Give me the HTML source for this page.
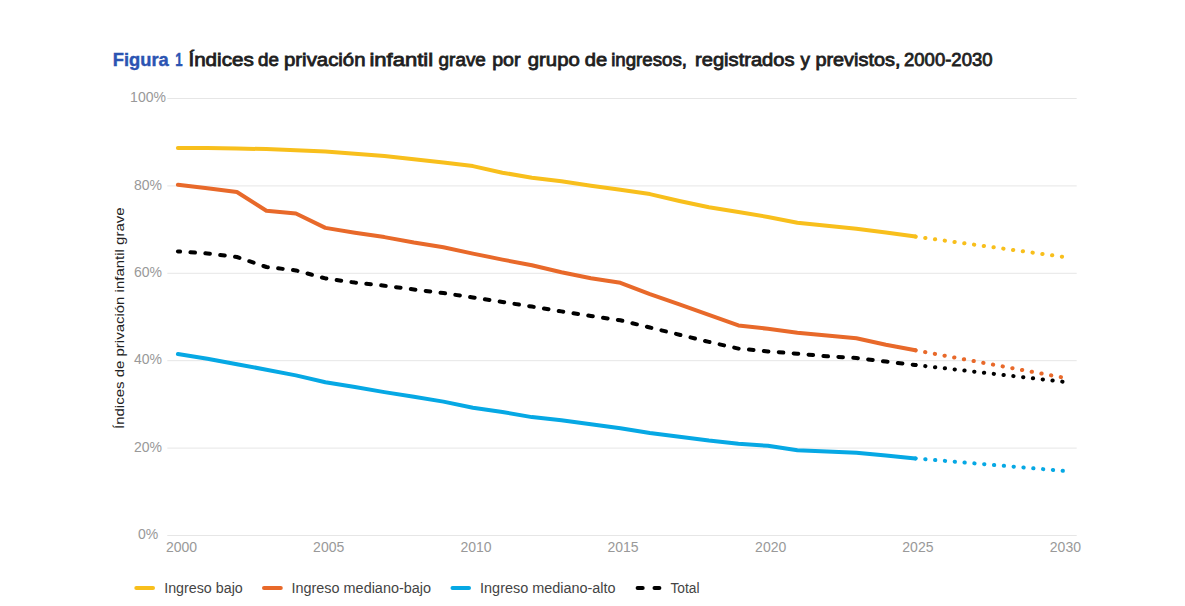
<!DOCTYPE html>
<html><head><meta charset="utf-8">
<style>
html,body{margin:0;padding:0;background:#fff;width:1185px;height:606px;overflow:hidden;}
svg{position:absolute;left:0;top:0;display:block;}
text{font-family:"Liberation Sans",sans-serif;}
.tick{font-size:14px;fill:#999999;}
.ytitle{font-size:13px;fill:#222222;}
.title{font-size:18px;font-weight:normal;fill:#1f1f1f;stroke:#1f1f1f;stroke-width:0.8px;}
.fig{font-size:18px;font-weight:bold;fill:#2b54b2;stroke:#2b54b2;stroke-width:0.4px;}
.leg{font-size:14px;fill:#444444;}
</style></head><body>
<svg width="1185" height="606" viewBox="0 0 1185 606">
<line x1="167.3" x2="1076.7" y1="98.5" y2="98.5" stroke="#e6e6e6" stroke-width="1"/>
<line x1="167.3" x2="1076.7" y1="185.9" y2="185.9" stroke="#e6e6e6" stroke-width="1"/>
<line x1="167.3" x2="1076.7" y1="273.3" y2="273.3" stroke="#e6e6e6" stroke-width="1"/>
<line x1="167.3" x2="1076.7" y1="360.7" y2="360.7" stroke="#e6e6e6" stroke-width="1"/>
<line x1="167.3" x2="1076.7" y1="448.1" y2="448.1" stroke="#e6e6e6" stroke-width="1"/>
<line x1="167.3" x2="1076.7" y1="535.5" y2="535.5" stroke="#e6e6e6" stroke-width="1"/>
<text x="148" y="102.2" text-anchor="middle" class="tick">100%</text>
<text x="148" y="189.6" text-anchor="middle" class="tick">80%</text>
<text x="148" y="277.0" text-anchor="middle" class="tick">60%</text>
<text x="148" y="364.4" text-anchor="middle" class="tick">40%</text>
<text x="148" y="451.8" text-anchor="middle" class="tick">20%</text>
<text x="148" y="539.2" text-anchor="middle" class="tick">0%</text>
<text x="181.5" y="552.1" text-anchor="middle" class="tick">2000</text>
<text x="328.7" y="552.1" text-anchor="middle" class="tick">2005</text>
<text x="476.0" y="552.1" text-anchor="middle" class="tick">2010</text>
<text x="623.0" y="552.1" text-anchor="middle" class="tick">2015</text>
<text x="770.7" y="552.1" text-anchor="middle" class="tick">2020</text>
<text x="917.9" y="552.1" text-anchor="middle" class="tick">2025</text>
<text x="1065.4" y="552.1" text-anchor="middle" class="tick">2030</text>
<text class="ytitle" transform="translate(123.8,318.2) rotate(-90)" text-anchor="middle" textLength="221.6" lengthAdjust="spacingAndGlyphs">Índices de privación infantil grave</text>
<path d="M177.90,147.90 L207.40,148.10 L236.90,148.50 L266.40,149.10 L295.90,150.30 L325.40,151.60 L354.90,153.80 L384.40,156.00 L413.90,159.20 L443.40,162.60 L472.90,166.10 L502.40,172.70 L531.90,177.70 L561.40,181.30 L590.90,185.70 L620.40,189.70 L649.90,194.10 L679.40,201.00 L708.90,207.30 L738.40,211.90 L767.90,217.00 L797.40,222.70 L826.90,225.80 L856.40,228.70 L885.90,232.50 L915.40,236.60" fill="none" stroke="#f8bf1c" stroke-width="4" stroke-linejoin="round" stroke-linecap="round"/>
<path d="M915.40,236.60 L1062.90,256.80" fill="none" stroke="#f8bf1c" stroke-width="4" stroke-linecap="round" stroke-dasharray="0.3 9.55"/>
<path d="M177.90,184.80 L207.40,188.20 L236.90,192.00 L266.40,210.80 L295.90,213.50 L325.40,227.90 L354.90,232.70 L384.40,237.10 L413.90,242.50 L443.40,247.20 L472.90,253.60 L502.40,259.60 L531.90,265.30 L561.40,272.20 L590.90,278.20 L620.40,282.80 L649.90,294.20 L679.40,304.40 L708.90,314.90 L738.40,325.40 L767.90,328.80 L797.40,332.70 L826.90,335.50 L856.40,338.20 L885.90,344.70 L915.40,350.30" fill="none" stroke="#e8692a" stroke-width="4" stroke-linejoin="round" stroke-linecap="round"/>
<path d="M915.40,350.30 L1062.90,377.50" fill="none" stroke="#e8692a" stroke-width="4" stroke-linecap="round" stroke-dasharray="0.3 9.55"/>
<path d="M177.90,354.10 L207.40,358.70 L236.90,364.20 L266.40,369.70 L295.90,375.40 L325.40,382.20 L354.90,387.00 L384.40,392.10 L413.90,396.80 L443.40,401.60 L472.90,407.80 L502.40,412.00 L531.90,417.10 L561.40,420.30 L590.90,424.30 L620.40,428.20 L649.90,433.00 L679.40,436.70 L708.90,440.60 L738.40,443.80 L767.90,445.80 L797.40,450.20 L826.90,451.50 L856.40,452.70 L885.90,455.60 L915.40,458.40" fill="none" stroke="#06a8e4" stroke-width="4" stroke-linejoin="round" stroke-linecap="round"/>
<path d="M915.40,458.40 L1062.90,470.80" fill="none" stroke="#06a8e4" stroke-width="4" stroke-linecap="round" stroke-dasharray="0.3 9.55"/>
<path d="M177.90,251.40 L207.40,253.50 L236.90,257.00 L266.40,267.00 L295.90,270.40 L325.40,278.40 L354.90,282.60 L384.40,285.70 L413.90,289.50 L443.40,293.10 L472.90,297.50 L502.40,302.00 L531.90,306.60 L561.40,311.40 L590.90,316.00 L620.40,320.30 L649.90,327.50 L679.40,334.70 L708.90,341.90 L738.40,348.60 L767.90,351.40 L797.40,353.70 L826.90,356.30 L856.40,358.00 L885.90,361.60 L915.40,365.00" fill="none" stroke="#000" stroke-width="4" stroke-linejoin="round" stroke-linecap="round" stroke-dasharray="4.6 10.35" stroke-dashoffset="2.4"/>
<path d="M915.40,365.00 L1062.90,381.70" fill="none" stroke="#000" stroke-width="4" stroke-linecap="round" stroke-dasharray="0.3 9.55"/>
<text x="112.8" y="65.9" class="fig" textLength="56.03" lengthAdjust="spacingAndGlyphs">Figura</text>
<text x="175.2" y="65.9" class="fig" textLength="7.36" lengthAdjust="spacingAndGlyphs">1</text>
<text x="188.4" y="65.9" class="title" textLength="65.43" lengthAdjust="spacingAndGlyphs">Índices</text>
<text x="258.0" y="65.9" class="title" textLength="20.9" lengthAdjust="spacingAndGlyphs">de</text>
<text x="284.0" y="65.9" class="title" textLength="81.52" lengthAdjust="spacingAndGlyphs">privación</text>
<text x="369.4" y="65.9" class="title" textLength="63.69" lengthAdjust="spacingAndGlyphs">infantil</text>
<text x="438.6" y="65.9" class="title" textLength="47.29" lengthAdjust="spacingAndGlyphs">grave</text>
<text x="492.2" y="65.9" class="title" textLength="28.36" lengthAdjust="spacingAndGlyphs">por</text>
<text x="527.8" y="65.9" class="title" textLength="51.99" lengthAdjust="spacingAndGlyphs">grupo</text>
<text x="584.8" y="65.9" class="title" textLength="22.44" lengthAdjust="spacingAndGlyphs">de</text>
<text x="611.2" y="65.9" class="title" textLength="75.74" lengthAdjust="spacingAndGlyphs">ingresos,</text>
<text x="695.0" y="65.9" class="title" textLength="99.58" lengthAdjust="spacingAndGlyphs">registrados</text>
<text x="800.4" y="65.9" class="title" textLength="9.46" lengthAdjust="spacingAndGlyphs">y</text>
<text x="815.4" y="65.9" class="title" textLength="85.05" lengthAdjust="spacingAndGlyphs">previstos,</text>
<text x="904.0" y="65.9" class="title" textLength="88.53" lengthAdjust="spacingAndGlyphs">2000-2030</text>
<line x1="136.3" x2="153.0" y1="588" y2="588" stroke="#f8bf1c" stroke-width="4" stroke-linecap="round"/>
<text x="164.2" y="592.8" class="leg" textLength="78.6" lengthAdjust="spacingAndGlyphs">Ingreso bajo</text>
<line x1="264.0" x2="280.8" y1="588" y2="588" stroke="#e8692a" stroke-width="4" stroke-linecap="round"/>
<text x="291.5" y="592.8" class="leg" textLength="139.5" lengthAdjust="spacingAndGlyphs">Ingreso mediano-bajo</text>
<line x1="452.5" x2="469.0" y1="588" y2="588" stroke="#06a8e4" stroke-width="4" stroke-linecap="round"/>
<text x="480.1" y="592.8" class="leg" textLength="135.5" lengthAdjust="spacingAndGlyphs">Ingreso mediano-alto</text>
<line x1="637.6" x2="642.7" y1="588" y2="588" stroke="#000" stroke-width="4" stroke-linecap="round"/>
<line x1="654.5" x2="659.4" y1="588" y2="588" stroke="#000" stroke-width="4" stroke-linecap="round"/>
<text x="670.4" y="592.8" class="leg" textLength="29.1" lengthAdjust="spacingAndGlyphs">Total</text>
</svg>
</body></html>
